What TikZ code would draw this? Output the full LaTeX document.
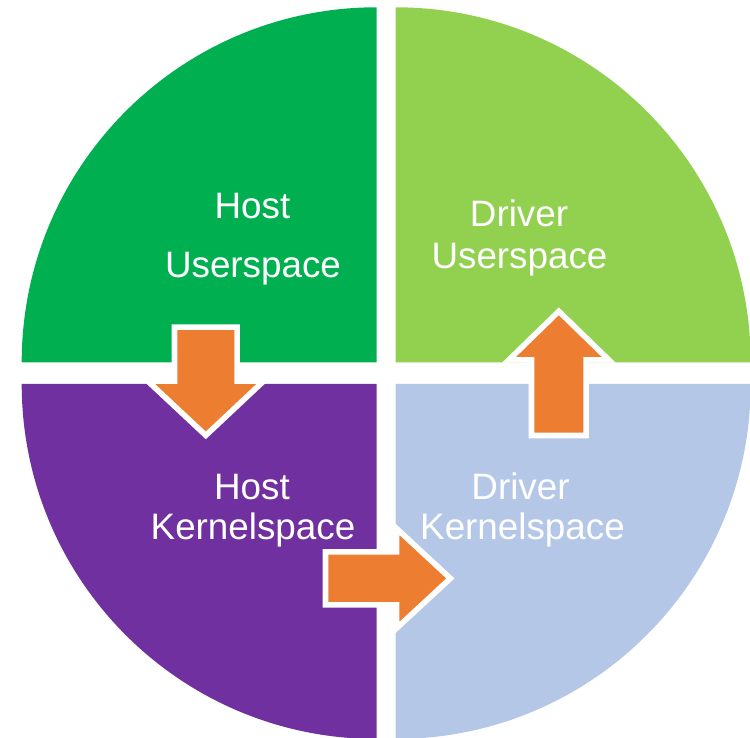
\documentclass[tikz,border=0pt]{standalone}
\usepackage{fontspec}
\setmainfont{Liberation Sans}
\definecolor{hostuser}{HTML}{00B050}
\definecolor{drvuser}{HTML}{92D050}
\definecolor{hostkern}{HTML}{7030A0}
\definecolor{drvkern}{HTML}{B4C7E7}
\definecolor{flow}{HTML}{ED7D31}
\begin{document}
\begin{tikzpicture}[x=1pt,y=1pt,
  blockarrow/.style={fill=flow, draw=white, line width=5.6pt, line join=miter},
  lbl/.style={text=white, font=\fontsize{36.8}{41.5}\selectfont, inner sep=0pt, anchor=base}]
\useasboundingbox (0,0) rectangle (750,738);
\clip (0,0) rectangle (750,738);

% four quarter discs, pulled apart by a white cross
\fill[hostuser] (376.7,375.7) -- ++(-355,0) arc[start angle=180,end angle=90,radius=355] -- cycle;
\fill[drvuser]  (395.7,375.7) -- ++(0,355)  arc[start angle=90,end angle=0,radius=355] -- cycle;
\fill[hostkern] (376.7,354.0) -- ++(0,-355) arc[start angle=270,end angle=180,radius=355] -- cycle;
\fill[drvkern]  (395.7,354.0) -- ++(355,0)  arc[start angle=0,end angle=-90,radius=355] -- cycle;

% block arrows between the quarters
\draw[blockarrow] (174.5,410.8) -- (237.1,410.8) -- (237.1,356.8) -- (263.5,356.8)
  -- (205.8,302.6) -- (147.9,356.8) -- (174.5,356.8) -- cycle;
\draw[blockarrow] (531.5,302.5) -- (586.1,302.5) -- (586.1,378.1) -- (608.8,378.1)
  -- (558.8,426.7) -- (508.9,378.1) -- (531.5,378.1) -- cycle;
\draw[blockarrow] (325.5,186.1) -- (396.5,186.1) -- (396.5,209.5) -- (450.4,159.6)
  -- (396.5,109.7) -- (396.5,133.1) -- (325.5,133.1) -- cycle;

% labels
\node[lbl] (hu1) at (252.5,519.7) {Host};
\node[lbl] (hu2) at (253.0,460.0) {Userspace};
\node[lbl] (du1) at (519.0,511.3) {Driver};
\node[lbl] (du2) at (519.5,469.7) {Userspace};
\node[lbl] (hk1) at (252.0,238.0) {Host};
\node[lbl] (hk2) at (253.0,198.0) {Kernelspace};
\node[lbl] (dk1) at (520.5,238.0) {Driver};
\node[lbl] (dk2) at (522.5,198.0) {Kernelspace};
\end{tikzpicture}
\end{document}
